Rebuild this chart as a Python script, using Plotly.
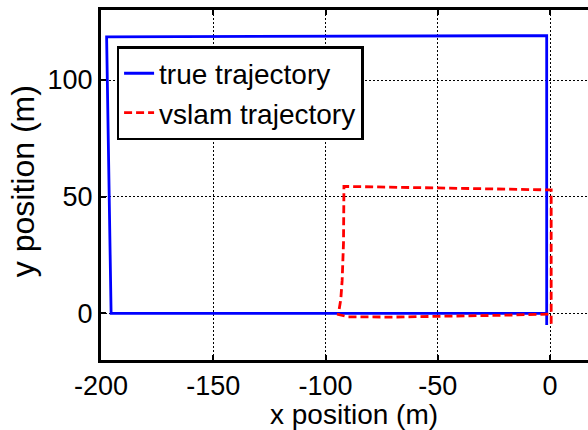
import plotly.graph_objects as go

# Ground-truth path (metres)
true_x = [-1.5, -1.5, -197.5, -195.5, -1.5]
true_y = [-5.0, 119.0, 118.5, 0.0, 0.0]

# Visual-SLAM estimate (metres)
vslam_x = [0.5, 0.5, -91.8, -92.0, -92.6, -93.2, -94.3, -90.0, -70.0, -40.0, -20.0, 0.5]
vslam_y = [-4.5, 52.9, 54.4, 30.0, 14.0, 6.0, -0.5, -1.5, -1.6, -1.2, -0.8, -0.3]

x_ticks = [-200, -150, -100, -50, 0]
x_tick_text = ["-200", "-150", "-100", "-50", "0"]
y_ticks = [0, 50, 100]

FONT = "Liberation Sans, Arial, Helvetica, sans-serif"

fig = go.Figure()
fig.add_trace(go.Scatter(x=true_x, y=true_y, mode="lines", name="true trajectory",
                         line=dict(color="#0000ff", width=2.8)))
fig.add_trace(go.Scatter(x=vslam_x, y=vslam_y, mode="lines", name="vslam trajectory",
                         line=dict(color="#ff0000", width=2.8, dash="8px,4px")))

axis_common = dict(
    showgrid=True, gridcolor="black", gridwidth=1, griddash="2px,2px",
    zeroline=False, showline=True, linecolor="black", linewidth=3,
    ticks="inside", ticklen=5, tickwidth=1.5, tickcolor="black",
    tickfont=dict(family=FONT, size=27, color="black"),
)

fig.update_xaxes(range=[-200, 16.9], tickvals=x_ticks, ticktext=x_tick_text,
                 mirror="ticks", **axis_common)
fig.update_yaxes(range=[-20, 130], tickvals=y_ticks, mirror=False, **axis_common)

fig.add_annotation(text="x position (m)", xref="paper", yref="paper", x=0.52, y=0,
                   yshift=-54, xanchor="center", yanchor="middle", showarrow=False,
                   font=dict(family=FONT, size=28, color="black"))
fig.add_annotation(text="y position (m)", xref="paper", yref="paper", x=0, y=0.511,
                   xshift=-78, xanchor="center", yanchor="middle", textangle=-90,
                   showarrow=False, font=dict(family=FONT, size=32, color="black"))

fig.update_layout(
    width=588, height=430,
    margin=dict(l=101, r=0, t=10, b=70),
    paper_bgcolor="white", plot_bgcolor="white",
    showlegend=True,
    legend=dict(x=0.032, y=0.897, xanchor="left", yanchor="top",
                bgcolor="white", bordercolor="black", borderwidth=2.5,
                font=dict(family=FONT, size=28, color="black"),
                itemwidth=30, tracegroupgap=0),
)

fig.write_html("out.html")
